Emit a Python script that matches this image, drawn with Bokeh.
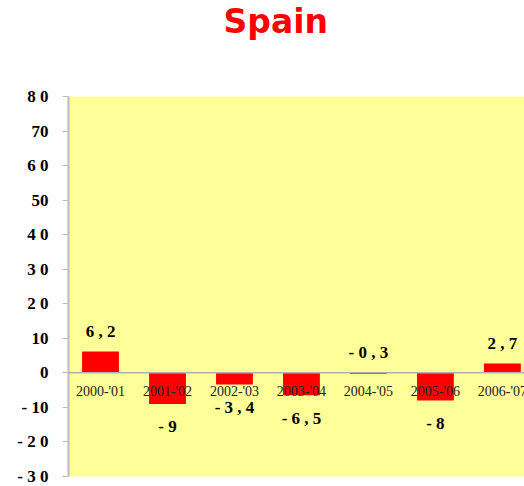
from bokeh.plotting import figure
from bokeh.models import ColumnDataSource, Span, FixedTicker, Range1d, Title
from bokeh.core.properties import value
from bokeh.embed import file_html
from bokeh.resources import INLINE

categories = ["2000-'01", "2001-'02", "2002-'03", "2003-'04", "2004-'05", "2005-'06", "2006-'07"]
values = [6.2, -9, -3.4, -6.5, -0.3, -8, 2.7]
y_ticks = [80, 70, 60, 50, 40, 30, 20, 10, 0, -10, -20, -30]
y_tick_labels = ["8 0", "70", "6 0", "50", "4 0", "3 0", "2 0", "10", "0", "- 10", "- 2 0", "- 3 0"]

idx = list(range(len(categories)))
val_labels = [" ".join(f"{v:g}".replace(".", ",")) for v in values]
above = [v > -1 for v in values]
lab_y = [max(v, 0) if a else v for v, a in zip(values, above)]
lab_off = [-20 if a else 23 for a in above]

src = ColumnDataSource(dict(x=idx, top=values, cat=categories, lab=val_labels,
                            ly=lab_y, loff=lab_off, zero=[0] * len(idx)))

W, H = 524, 486
p = figure(width=W, height=H, output_backend="svg", toolbar_location=None,
           x_range=Range1d(-0.478, 6.33), y_range=Range1d(-30, 80),
           min_border_left=68, min_border_right=0, min_border_top=0, min_border_bottom=10)

p.background_fill_color = "#FFFF99"
p.border_fill_color = "white"
p.outline_line_color = None
p.grid.visible = False
p.xaxis.visible = False

# invisible spacer between title and frame
p.add_layout(Title(text=" ", text_font_size="10px", standoff=40), "above")

p.title.text = "Spain"
p.title.text_color = "#FF0000"
p.title.text_font = "DejaVu Sans"
p.title.text_font_style = "bold"
p.title.text_font_size = "33px"
p.title.align = "left"
p.title.offset = 155
p.title.standoff = 2
p.title.vertical_align = "top"

ya = p.yaxis[0]
ya.ticker = FixedTicker(ticks=y_ticks)
ya.major_label_overrides = {t: l for t, l in zip(y_ticks, y_tick_labels)}
ya.major_label_text_font = "Liberation Serif"
ya.major_label_text_font_style = "bold"
ya.major_label_text_font_size = "17px"
ya.major_label_text_color = "black"
ya.axis_line_color = "#BBBBBB"
ya.axis_line_width = 2
ya.major_tick_line_color = "#BBBBBB"
ya.major_tick_out = 6
ya.major_tick_in = 0
ya.minor_tick_line_color = None
ya.major_label_standoff = 14

p.vbar(x="x", top="top", bottom=0, width=0.55, source=src, fill_color="#FF0000", line_color=None)
p.add_layout(Span(location=0, dimension="width", line_color="#B0B0B0", line_width=1.5))

p.text(x="x", y="zero", text="cat", source=src, text_font=value("Liberation Serif"),
       text_font_size="14px", text_color="#222222", text_align="center",
       text_baseline="middle", y_offset=19)
p.text(x="x", y="ly", text="lab", source=src, text_font=value("Liberation Serif"),
       text_font_style="bold", text_font_size="17px", text_color="black",
       text_align="center", text_baseline="middle", y_offset="loff")

open("out.html", "w").write(file_html(p, INLINE))
